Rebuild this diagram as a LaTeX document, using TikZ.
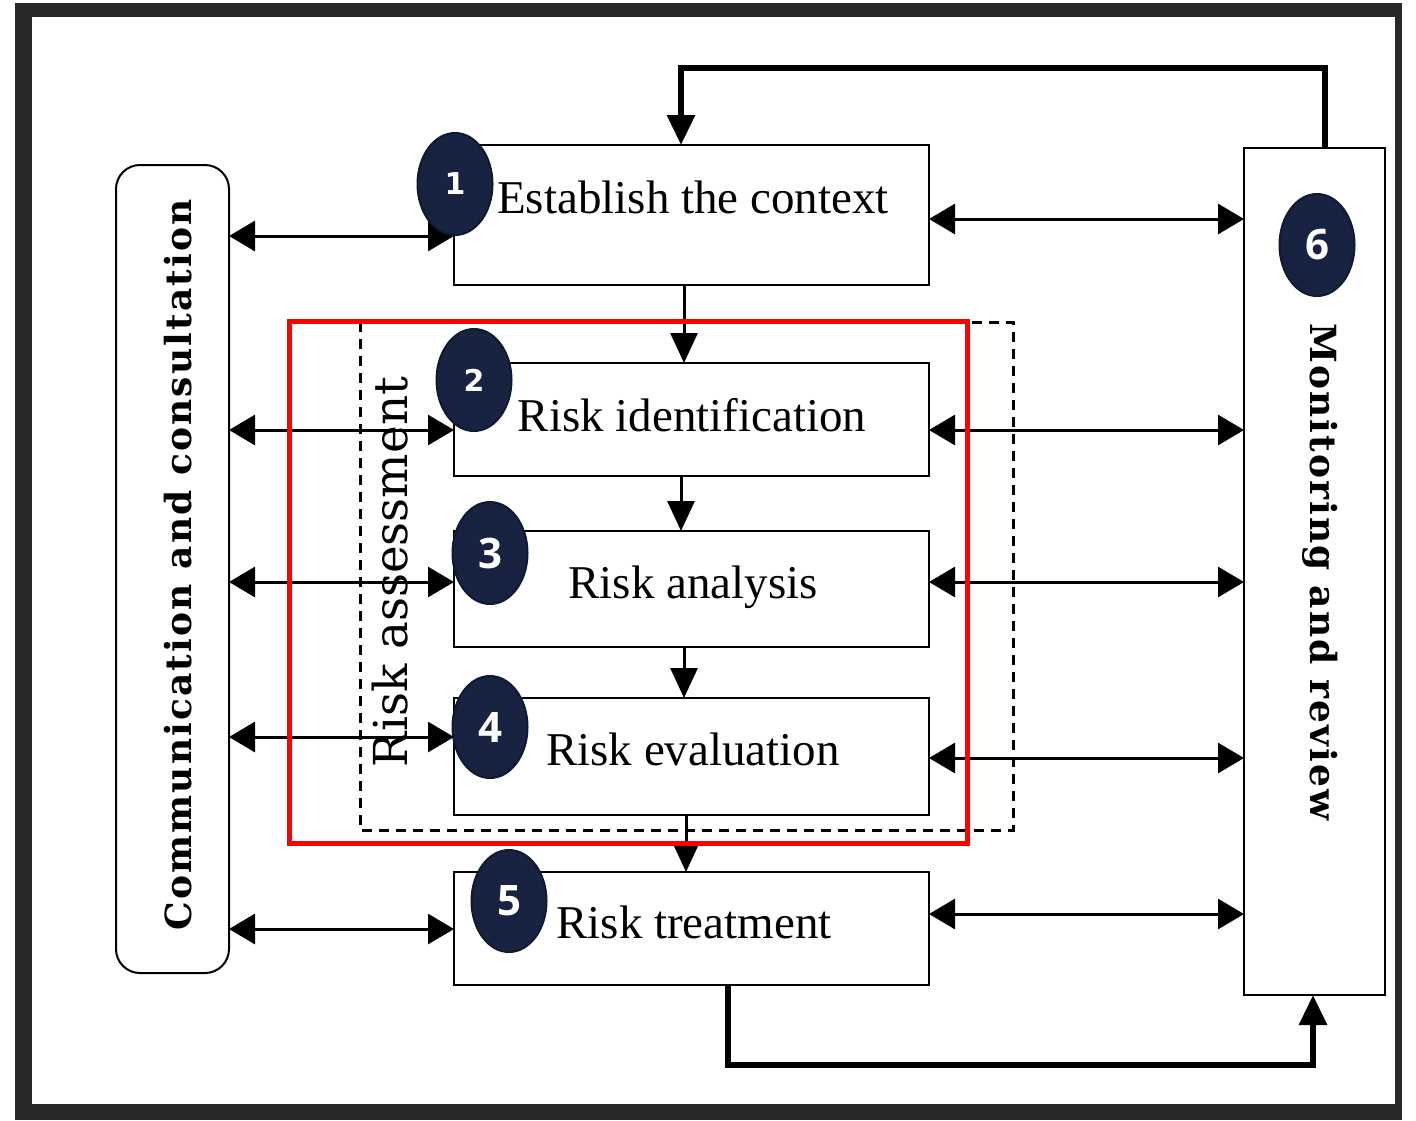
\documentclass[tikz,border=0pt]{standalone}
\usepackage{fontspec}
\setmainfont{Liberation Serif}
\newfontfamily\djserif{DejaVu Serif}
\newfontfamily\sidefont[LetterSpace=6]{DejaVu Serif}
\newfontfamily\djsans{DejaVu Sans}
\newfontfamily\osans{Open Sans}
\usetikzlibrary{arrows.meta,shapes.geometric}
\definecolor{framecol}{HTML}{282828}
\definecolor{badgefill}{HTML}{172341}
\definecolor{badgeedge}{HTML}{0F1A30}
\definecolor{redbox}{HTML}{FF0000}
\begin{document}
\begin{tikzpicture}[x=0.5pt,y=-0.5pt,
  box/.style={draw,line width=1pt,minimum width=237.5pt,outer sep=0pt,inner sep=0pt,fill=white},
  boxtext/.style={anchor=base,font=\fontsize{23.5pt}{28pt}\selectfont,inner sep=0pt},
  sidetext/.style={font=\sidefont\bfseries\fontsize{18pt}{22pt}\selectfont,inner sep=0pt},
  dbl/.style={line width=1.5pt,{Triangle[length=13pt,width=15pt]}-{Triangle[length=13pt,width=15pt]}},
  arr/.style={line width=1.5pt,-{Triangle[length=15pt,width=13.5pt]}},
  loop/.style={line width=3pt,-{Triangle[length=15pt,width=13.5pt]}},
  badgebig/.style={ellipse,fill=badgefill,draw=badgeedge,line width=1pt,minimum width=37.5pt,minimum height=51pt,inner sep=0pt,text=white,font=\osans\bfseries\fontsize{21pt}{24pt}\selectfont},
  badgesmall/.style={badgebig,font=\djsans\bfseries\fontsize{15pt}{18pt}\selectfont}
]
\useasboundingbox (0,0) rectangle (1416,1120);
% frame
\fill[framecol] (15,3) rectangle (1402,1120);
\fill[white] (32,17) rectangle (1395,1104);

% dashed risk assessment box
\draw[line width=1.5pt,dash pattern=on 5pt off 3.5pt] (360,322) rectangle (1013,830);

% side boxes
\node[draw,line width=1pt,rounded corners=12pt,minimum width=56.5pt,minimum height=404pt,outer sep=0pt] (comm) at (172.5,569) {};
\node[draw,line width=1pt,minimum width=70.5pt,minimum height=423.5pt,outer sep=0pt] (mon) at (1314.5,571.5) {};

% main boxes
\node[box,minimum height=70pt] (ctx) at (691.5,215) {};
\node[box,minimum height=56.5pt] (ident) at (691.5,419.5) {};
\node[box,minimum height=58pt] (anal) at (691.5,589) {};
\node[box,minimum height=58.5pt] (eval) at (691.5,756.5) {};
\node[box,minimum height=56.5pt] (treat) at (691.5,928.5) {};

% box texts
\node[boxtext] (tctx) at (693,213) {Establish the context};
\node[boxtext] (tident) at (692,431) {Risk identification};
\node[boxtext] (tanal) at (693,598) {Risk analysis};
\node[boxtext] (teval) at (693,765) {Risk evaluation};
\node[boxtext] (ttreat) at (694,938) {Risk treatment};

% side texts
\node[sidetext,rotate=90] (tcomm) at (178,565) {Communication and consultation};
\node[sidetext,rotate=-90] (tmon) at (1320,572) {Monitoring and review};

% left double arrows
\coordinate (l1) at (0,236);
\coordinate (l2) at (0,430);
\coordinate (l3) at (0,582);
\coordinate (l4) at (0,737);
\coordinate (l5) at (0,929);
\draw[dbl] (comm.east |- l1) -- (ctx.west |- l1);
\draw[dbl] (comm.east |- l2) -- (ident.west |- l2);
\draw[dbl] (comm.east |- l3) -- (anal.west |- l3);
\draw[dbl] (comm.east |- l4) -- (eval.west |- l4);
\draw[dbl] (comm.east |- l5) -- (treat.west |- l5);

% right double arrows
\coordinate (r1) at (0,219);
\coordinate (r2) at (0,430);
\coordinate (r3) at (0,582);
\coordinate (r4) at (0,758);
\coordinate (r5) at (0,914);
\draw[dbl] (ctx.east |- r1) -- (mon.west |- r1);
\draw[dbl] (ident.east |- r2) -- (mon.west |- r2);
\draw[dbl] (anal.east |- r3) -- (mon.west |- r3);
\draw[dbl] (eval.east |- r4) -- (mon.west |- r4);
\draw[dbl] (treat.east |- r5) -- (mon.west |- r5);

% vertical arrows
\draw[arr] ([xshift=-3.75pt]ctx.south) -- ([xshift=-3.75pt]ident.north);
\draw[arr] ([xshift=-5.25pt]ident.south) -- ([xshift=-5.25pt]anal.north);
\draw[arr] ([xshift=-3.75pt]anal.south) -- ([xshift=-3.75pt]eval.north);
\draw[arr] ([xshift=-2.75pt]eval.south) -- ([xshift=-2.75pt]treat.north);

% feedback loops
\coordinate (topy) at (0,68);
\coordinate (boty) at (0,1065);
\draw[loop] ([xshift=5.25pt]mon.north) |- (topy -| 681,0) -- ([xshift=-5.25pt]ctx.north);
\draw[loop] ([xshift=18.25pt]treat.south) |- (boty -| 1313,0) -- ([xshift=-0.75pt]mon.south);

% risk assessment label
\node[font=\djserif\fontsize{23.4pt}{27pt}\selectfont,rotate=90,inner sep=0pt] (tassess) at (390,572) {Risk assessment};

% red highlight
\draw[redbox,line width=2.5pt] (289,321) rectangle (967,843);

% badges
\node[badgesmall] (b1) at (455,184) {1};
\node[badgesmall] (b2) at (474,380) {2};
\node[badgebig] (b3) at (490,553) {3};
\node[badgebig] (b4) at (490,727) {4};
\node[badgebig] (b5) at (509,901) {5};
\node[badgebig] (b6) at (1317,245) {6};
\end{tikzpicture}
\end{document}
